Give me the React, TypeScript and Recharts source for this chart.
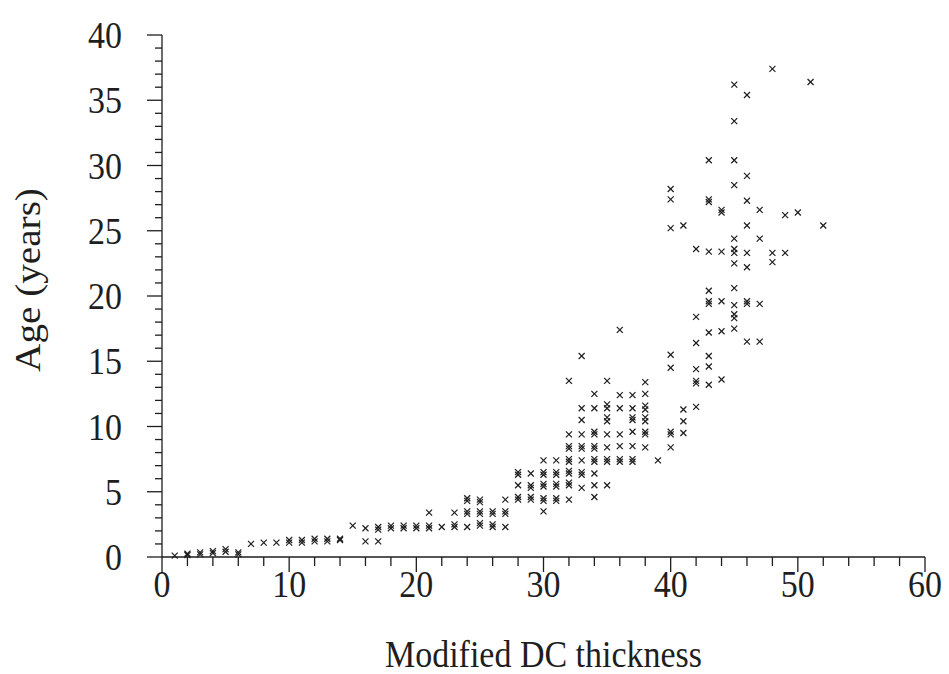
import { ScatterChart, Scatter, XAxis, YAxis, Label } from 'recharts'

// tick positions (minor + major) and the ones that carry a number
const xTicks = [0, 2, 4, 6, 8, 10, 12, 14, 16, 18, 20, 22, 24, 26, 28, 30, 32, 34, 36, 38, 40, 42, 44, 46, 48, 50, 52, 54, 56, 58, 60]
const xLabels = [0, 10, 20, 30, 40, 50, 60]
const yTicks = [0, 1, 2, 3, 4, 5, 6, 7, 8, 9, 10, 11, 12, 13, 14, 15, 16, 17, 18, 19, 20, 21, 22, 23, 24, 25, 26, 27, 28, 29, 30, 31, 32, 33, 34, 35, 36, 37, 38, 39, 40]
const yLabels = [0, 5, 10, 15, 20, 25, 30, 35, 40]

// [modified DC thickness, age in years]
const pointsLow: [number, number][] = [
  [1, 0.1], [2, 0.15], [2, 0.25], [3, 0.2], [3, 0.35], [4, 0.3], [4, 0.45], [5, 0.4], [5, 0.6],
  [6, 0.2], [6, 0.35], [7, 1.0], [8, 1.1], [9, 1.1], [10, 1.1], [10, 1.3], [11, 1.1], [11, 1.3],
  [12, 1.2], [12, 1.4], [13, 1.2], [13, 1.4], [14, 1.3], [14, 1.4], [15, 2.4], [16, 2.2], [16, 1.2],
  [17, 2.1], [17, 2.3], [17, 1.2],
]

const pointsMid: [number, number][] = [
  [18, 2.2], [18, 2.4], [19, 2.2], [19, 2.4], [20, 2.2], [20, 2.4], [21, 3.4], [21, 2.2], [21, 2.4],
  [22, 2.3], [23, 3.4], [23, 2.3], [23, 2.5], [24, 4.3], [24, 4.5], [24, 3.3], [24, 3.5], [24, 2.3],
  [25, 4.2], [25, 4.4], [25, 3.3], [25, 3.5], [25, 2.4], [25, 2.6], [26, 3.3], [26, 3.5], [26, 2.3], [26, 2.5],
  [27, 4.4], [27, 3.3], [27, 3.5], [27, 2.3], [28, 6.3], [28, 6.5], [28, 5.5], [28, 4.4], [28, 4.6],
  [29, 6.4], [29, 5.3], [29, 5.5], [29, 4.4], [29, 4.6],
  [30, 7.4], [30, 6.3], [30, 6.5], [30, 5.4], [30, 5.6], [30, 4.3], [30, 4.5], [30, 3.5],
  [31, 7.4], [31, 6.3], [31, 6.5], [31, 5.4], [31, 5.6], [31, 4.3], [31, 4.5],
]

const pointsHigh: [number, number][] = [
  [32, 13.5], [32, 9.4], [32, 8.3], [32, 8.5], [32, 7.3], [32, 7.5], [32, 6.4], [32, 6.6], [32, 5.5], [32, 5.7], [32, 4.4],
  [33, 15.4], [33, 11.4], [33, 10.5], [33, 9.4], [33, 8.3], [33, 8.5], [33, 7.4], [33, 6.3], [33, 6.5], [33, 5.3],
  [34, 12.5], [34, 11.4], [34, 9.4], [34, 9.6], [34, 8.3], [34, 8.5], [34, 7.3], [34, 7.5], [34, 6.4], [34, 5.5], [34, 4.6],
  [35, 13.5], [35, 11.4], [35, 11.7], [35, 10.4], [35, 10.7], [35, 9.4], [35, 8.4], [35, 7.3], [35, 7.5], [35, 5.5],
  [36, 17.4], [36, 12.4], [36, 11.4], [36, 9.4], [36, 8.5], [36, 7.3], [36, 7.5],
  [37, 12.4], [37, 11.4], [37, 10.5], [37, 10.7], [37, 9.6], [37, 8.5], [37, 7.3], [37, 7.5],
  [38, 13.4], [38, 12.5], [38, 11.3], [38, 11.6], [38, 10.4], [38, 10.7], [38, 9.4], [38, 9.6], [38, 8.4],
  [39, 7.4],
]

const pointsTop: [number, number][] = [
  [40, 28.2], [40, 27.4], [40, 25.2], [40, 15.5], [40, 14.5], [40, 9.4], [40, 9.6], [40, 8.4],
  [41, 25.4], [41, 11.3], [41, 10.4], [41, 9.5],
  [42, 23.6], [42, 18.4], [42, 16.4], [42, 14.4], [42, 13.3], [42, 13.5], [42, 11.5],
  [43, 30.4], [43, 27.2], [43, 27.4], [43, 23.4], [43, 20.4], [43, 19.4], [43, 19.6], [43, 17.2], [43, 15.4], [43, 14.6], [43, 13.2],
  [44, 26.4], [44, 26.6], [44, 23.4], [44, 19.6], [44, 17.3], [44, 13.6],
  [45, 36.2], [45, 33.4], [45, 30.4], [45, 28.5], [45, 24.4], [45, 23.3], [45, 23.6], [45, 22.5], [45, 20.6], [45, 19.3], [45, 18.3], [45, 18.6], [45, 17.5],
  [46, 35.4], [46, 29.2], [46, 27.3], [46, 25.4], [46, 23.3], [46, 22.2], [46, 19.4], [46, 19.6], [46, 16.5],
  [47, 26.6], [47, 24.4], [47, 19.4], [47, 16.5],
  [48, 37.4], [48, 23.3], [48, 22.6],
  [49, 26.2], [49, 23.3],
  [50, 26.4],
  [51, 36.4],
  [52, 25.4],
]

const data = [...pointsLow, ...pointsMid, ...pointsHigh, ...pointsTop].map(([x, y]) => ({ x, y }))

const ink = '#1e1e1e'
const serif = '"Liberation Serif", "DejaVu Serif", serif'
// the scanned figure is a little taller than wide, so text is stretched vertically
const stretch = 1.12

function XTick({ x, y, payload }: any) {
  const major = xLabels.includes(payload.value)
  return (
    <g>
      <line x1={x} y1={y} x2={x} y2={y + (major ? 15 : 9)} stroke={ink} strokeWidth={1.3} />
      {major && (
        <text transform={`translate(${x} ${y + 40}) scale(1 ${stretch})`} textAnchor="middle" fontSize={34} fontFamily={serif} fill={ink}>
          {payload.value}
        </text>
      )}
    </g>
  )
}

function YTick({ x, y, payload }: any) {
  const major = yLabels.includes(payload.value)
  return (
    <g>
      <line x1={x - (major ? 15 : 7)} y1={y} x2={x} y2={y} stroke={ink} strokeWidth={1.3} />
      {major && (
        <text transform={`translate(${x - 40} ${y + 13}) scale(1 ${stretch})`} textAnchor="end" fontSize={34} fontFamily={serif} fill={ink}>
          {payload.value}
        </text>
      )}
    </g>
  )
}

function Cross({ cx, cy }: any) {
  const r = 3
  return (
    <g stroke={ink} strokeWidth={1.2}>
      <line x1={cx - r} y1={cy - r} x2={cx + r} y2={cy + r} />
      <line x1={cx - r} y1={cy + r} x2={cx + r} y2={cy - r} />
    </g>
  )
}

function XTitle({ viewBox }: any) {
  const cx = viewBox.x + viewBox.width / 2
  return (
    <text transform={`translate(${cx} ${viewBox.y + 110}) scale(1 ${stretch})`} textAnchor="middle" fontSize={34} fontFamily={serif} fill={ink}>
      Modified DC thickness
    </text>
  )
}

function YTitle({ viewBox }: any) {
  const tx = viewBox.x + 40
  const ty = viewBox.y + viewBox.height / 2 - 16
  return (
    <text transform={`translate(${tx} ${ty}) rotate(-90) scale(${stretch} 1)`} textAnchor="middle" fontSize={35} fontFamily={serif} fill={ink}>
      Age (years)
    </text>
  )
}

export default function App() {
  return (
    <div style={{ position: 'absolute', left: 0, top: 0, width: 949, height: 674, background: '#fff' }}>
      <ScatterChart width={949} height={674} margin={{ top: 35, right: 24, bottom: 0, left: 0 }}>
        <XAxis
          type="number"
          dataKey="x"
          domain={[0, 60]}
          ticks={xTicks}
          interval={0}
          height={117}
          tickSize={0}
          tickMargin={0}
          tickLine={false}
          tick={<XTick />}
          axisLine={{ stroke: ink, strokeWidth: 1.3 }}
        >
          <Label content={<XTitle />} />
        </XAxis>
        <YAxis
          type="number"
          dataKey="y"
          domain={[0, 40]}
          ticks={yTicks}
          interval={0}
          width={162}
          tickSize={0}
          tickMargin={0}
          tickLine={false}
          tick={<YTick />}
          axisLine={{ stroke: ink, strokeWidth: 1.3 }}
        >
          <Label content={<YTitle />} />
        </YAxis>
        <Scatter data={data} shape={<Cross />} isAnimationActive={false} />
      </ScatterChart>
    </div>
  )
}
